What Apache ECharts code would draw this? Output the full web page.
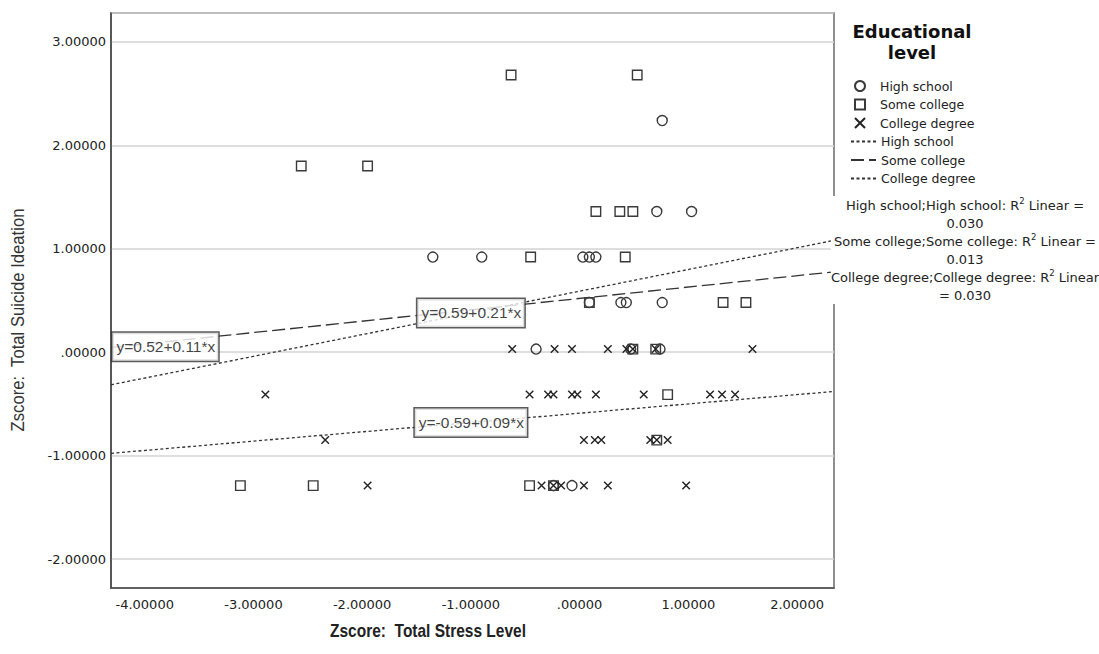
<!DOCTYPE html>
<html><head><meta charset="utf-8">
<script src="https://cdn.jsdelivr.net/npm/echarts@6/dist/echarts.min.js"></script>
<style>html,body{margin:0;padding:0;background:#fff}#c{width:1099px;height:654px}</style>
</head><body><div id="c"></div>
<script>
// ---- data ----
const groupNames = ['High school', 'Some college', 'College degree'];

const hsStress   = [0.76, 0.71, 1.03, -1.35, -0.90, 0.03, 0.09, 0.15, 0.09, 0.38, 0.43, 0.76, -0.40, 0.47, 0.74, -0.24, -0.07];
const hsIdeation = [2.24, 1.36, 1.36, 0.92, 0.92, 0.92, 0.92, 0.92, 0.48, 0.48, 0.48, 0.48, 0.03, 0.03, 0.03, -1.29, -1.29];

const scStress   = [-0.63, 0.53, -2.56, -1.95, 0.15, 0.37, 0.49, -0.45, 0.42, 0.09, 1.32, 1.53, 0.49, 0.70, 0.81, 0.71, -3.12, -2.45, -0.46, -0.24];
const scIdeation = [2.68, 2.68, 1.80, 1.80, 1.36, 1.36, 1.36, 0.92, 0.92, 0.48, 0.48, 0.48, 0.03, 0.03, -0.41, -0.85, -1.29, -1.29, -1.29, -1.29];

const cdStress   = [-0.62, -0.23, -0.07, 0.26, 0.43, 0.49, 0.70, 1.59,
                    -2.89, -0.46, -0.29, -0.24, -0.07, -0.02, 0.15, 0.59, 1.20, 1.31, 1.43,
                    -2.34, 0.04, 0.14, 0.20, 0.65, 0.71, 0.81,
                    -1.95, -0.35, -0.24, -0.17, 0.04, 0.26, 0.98];
const cdIdeation = [0.03, 0.03, 0.03, 0.03, 0.03, 0.03, 0.03, 0.03,
                    -0.41, -0.41, -0.41, -0.41, -0.41, -0.41, -0.41, -0.41, -0.41, -0.41, -0.41,
                    -0.85, -0.85, -0.85, -0.85, -0.85, -0.85, -0.85,
                    -1.29, -1.29, -1.29, -1.29, -1.29, -1.29, -1.29];

const fitIntercepts = [0.59, 0.52, -0.59];
const fitSlopes     = [0.21, 0.11, 0.09];
const fitLabelAtX   = [-1.0, -3.81, -1.0];
const fitR2         = ['0.030', '0.013', '0.030'];

const xRange = [-4.31, 2.34];
const yRange = [-2.28, 3.28];

const xTitle = 'Zscore:  Total Stress Level';
const yTitle = 'Zscore:  Total Suicide Ideation';
const legendTitleLines = ['Educational', 'level'];

// ---- build ----
const zip = (a, b) => a.map((v, i) => [v, b[i]]);
const fmt = v => Math.abs(v) < 1e-9 ? '.00000' : v.toFixed(5);
const ink = '#3a3a3a';
const hollow = 'rgba(0,0,0,0)';
const dashes = [[3, 2.5], [13, 5], [3, 2.5]];
const symbols = ['circle', 'rect', 'path://M0 0L10 10M10 0L0 10'];
const symSizes = [10, 9.5, 7.5];
const labelOffsets = [[0, 0], [0, 5], [0, 0]];
const pointSets = [zip(hsStress, hsIdeation), zip(scStress, scIdeation), zip(cdStress, cdIdeation)];

const series = [];
groupNames.forEach((g, i) => {
  series.push({
    name: g, type: 'scatter', data: pointSets[i],
    symbol: symbols[i], symbolSize: symSizes[i],
    itemStyle: { color: hollow, borderColor: i === 2 ? '#222' : ink, borderWidth: 1.4, opacity: 1 },
    emphasis: { disabled: true }, z: 3
  });
});
groupNames.forEach((g, i) => {
  const a = fitIntercepts[i], b = fitSlopes[i];
  series.push({
    name: g + ' fit', type: 'line', symbol: 'none', showSymbol: false, silent: true,
    data: [[xRange[0], a + b * xRange[0]], [xRange[1], a + b * xRange[1]]],
    lineStyle: { color: '#333', width: 1.3, type: dashes[i] },
    itemStyle: { color: '#333' }, z: 2
  });
});
series.push({
  name: 'fit labels', type: 'scatter', silent: true, z: 4,
  symbol: 'circle', symbolSize: 1, itemStyle: { color: hollow },
  data: groupNames.map((g, i) => ({
    value: [fitLabelAtX[i], fitIntercepts[i] + fitSlopes[i] * fitLabelAtX[i]],
    label: { offset: labelOffsets[i], formatter: 'y=' + fitIntercepts[i].toFixed(2) + '+' + fitSlopes[i].toFixed(2) + '*x' }
  })),
  label: {
    show: true, position: 'inside', color: '#111',
    fontFamily: '"Liberation Sans", Arial, sans-serif', fontSize: 15.5,
    backgroundColor: '#fff', borderColor: '#333', borderWidth: 1.5,
    padding: [7, 3, 5, 4]
  }
});

const r2Text = groupNames.map((g, i) => {
  const head = g + ';' + g + ': R{sup|2} Linear';
  return i === 2 ? head + '\n= ' + fitR2[i] : head + ' =\n' + fitR2[i];
}).join('\n');

const legendText = { fontFamily: '"DejaVu Sans", sans-serif', fontSize: 12.5, color: '#222', lineHeight: 14 };
const titleStyle = { textAlign: 'center', textVerticalAlign: 'middle', fill: '#111',
  fontFamily: '"DejaVu Sans", sans-serif', fontWeight: 'bold', fontSize: 18 };

const option = {
  animation: false,
  backgroundColor: '#fff',
  grid: { left: 111, right: 265, top: 13, bottom: 66, show: true, borderColor: '#555', borderWidth: 1.3, containLabel: false },
  xAxis: {
    type: 'value', min: xRange[0], max: xRange[1],
    axisLine: { show: true, onZero: false, lineStyle: { color: '#444', width: 1.5 } },
    axisTick: { show: false }, splitLine: { show: false },
    axisLabel: { showMinLabel: false, showMaxLabel: false, margin: 10, color: '#222',
      fontFamily: '"DejaVu Sans", sans-serif', fontSize: 13, formatter: fmt }
  },
  yAxis: {
    type: 'value', min: yRange[0], max: yRange[1],
    axisLine: { show: true, onZero: false, lineStyle: { color: '#444', width: 1.5 } },
    axisTick: { show: false },
    splitLine: { show: true, lineStyle: { color: '#d3d3d3', width: 1.5 } },
    axisLabel: { showMinLabel: false, showMaxLabel: false, margin: 5, color: '#222',
      fontFamily: '"DejaVu Sans", sans-serif', fontSize: 13, formatter: fmt }
  },
  legend: [
    {
      data: groupNames, orient: 'vertical', left: 854, top: 79, padding: 0,
      itemWidth: 10, itemHeight: 10, itemGap: 4.5, selectedMode: false,
      textStyle: Object.assign({ padding: [0, 0, 0, 10] }, legendText)
    },
    {
      data: groupNames.map(g => g + ' fit'), orient: 'vertical', left: 850, top: 134.5, padding: 0,
      itemWidth: 25, itemHeight: 10, itemGap: 4.5, selectedMode: false,
      itemStyle: { color: hollow, borderColor: hollow, borderWidth: 0 },
      formatter: n => n.replace(' fit', ''),
      textStyle: legendText
    }
  ],
  graphic: [
    { type: 'text', x: 428, y: 630, scaleX: 0.815, z: 10, style: { text: xTitle, textAlign: 'center', textVerticalAlign: 'middle', fill: '#222',
        fontFamily: '"Liberation Sans", Arial, sans-serif', fontWeight: 'bold', fontSize: 19 } },
    { type: 'text', x: 18, y: 320, rotation: Math.PI / 2, scaleX: 0.877, z: 10, style: { text: yTitle, textAlign: 'center', textVerticalAlign: 'middle', fill: '#333',
        fontFamily: '"Liberation Sans", Arial, sans-serif', fontSize: 19 } },
    { type: 'text', x: 912, y: 31, z: 10, style: Object.assign({ text: legendTitleLines[0] }, titleStyle) },
    { type: 'text', x: 912, y: 52, z: 10, style: Object.assign({ text: legendTitleLines[1] }, titleStyle) },
    { type: 'text', x: 965, y: 196, z: 10, style: { text: r2Text, textAlign: 'center', textVerticalAlign: 'top', fill: '#222',
        fontFamily: '"DejaVu Sans", sans-serif', fontSize: 13, lineHeight: 18, backgroundColor: '#fff',
        rich: { sup: { fontSize: 8.5, verticalAlign: 'top', fill: '#222', fontFamily: '"DejaVu Sans", sans-serif', lineHeight: 14 } } } }
  ],
  series: series
};
const chart = echarts.init(document.getElementById('c'), null, { renderer: 'svg' });
chart.setOption(option);
</script></body></html>
